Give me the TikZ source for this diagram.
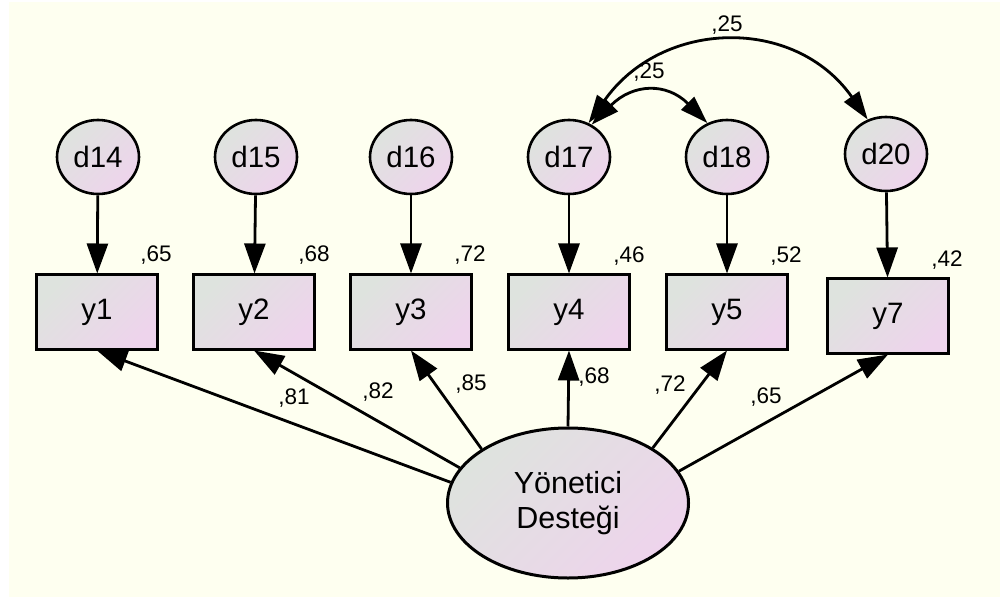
\documentclass[tikz,border=0pt]{standalone}
\usepackage{fontspec}
\setmainfont{Liberation Sans}
\usetikzlibrary{arrows.meta,shapes.geometric}
\definecolor{paper}{RGB}{254,255,240}
\definecolor{shadeA}{RGB}{222,227,222}
\definecolor{shadeB}{RGB}{238,212,236}
\begin{document}
\begin{tikzpicture}[x=1pt,y=-1pt,
  grad/.style={top color=shadeA, bottom color=shadeB, shading angle=45},
  errvar/.style={ellipse, draw, line width=2.6pt, grad, minimum width=82pt,
    minimum height=74pt, inner sep=0pt, font=\fontsize{29.5}{32}\selectfont},
  obsvar/.style={rectangle, draw, line width=3pt, grad, minimum width=121pt,
    minimum height=74pt, inner sep=0pt, font=\fontsize{29.5}{32}\selectfont},
  latvar/.style={ellipse, draw, line width=3pt, grad, minimum width=241pt,
    minimum height=150pt, inner sep=0pt, align=center,
    font=\fontsize{30.5}{35}\selectfont},
  coef/.style={font=\fontsize{22.5}{25}\selectfont, inner sep=0pt},
  regpath/.style={line width=2.8pt, -{Triangle[length=30pt,width=21pt]}},
  covpath/.style={line width=2.8pt,
    {Triangle[length=28pt,width=18pt]}-{Triangle[length=28pt,width=18pt]}}]

% canvas
\useasboundingbox (0,0) rectangle (1000,601);
\fill[white] (0,0) rectangle (1000,601);
\fill[paper] (9,2) rectangle (1000,597);

% error terms
\node[errvar] (d14) at (98,157) {d14};
\node[errvar] (d15) at (256,157) {d15};
\node[errvar] (d16) at (411,157) {d16};
\node[errvar] (d17) at (569,157) {d17};
\node[errvar] (d18) at (727,157) {d18};
\node[errvar] (d20) at (886,154) {d20};

% observed indicators
\node[obsvar] (y1) at (97,312) {y1};
\node[obsvar] (y2) at (254,312) {y2};
\node[obsvar] (y3) at (411,312) {y3};
\node[obsvar] (y4) at (569,312) {y4};
\node[obsvar] (y5) at (727,312) {y5};
\node[obsvar] (y7) at (888,316) {y7};

% latent factor
\node[latvar] (lat) at (568,503) {Yönetici\\Desteği};

% error paths
\draw[regpath] (d14) -- (y1);
\draw[regpath] (d15) -- (y2);
\draw[regpath] (d16) -- (y3);
\draw[regpath] (d17) -- (y4);
\draw[regpath] (d18) -- (y5);
\draw[regpath] (d20) -- (y7);

% factor loadings
\draw[regpath] (lat.170) -- (y1.south);
\draw[regpath] (lat.162) -- (y2.south);
\draw[regpath] (lat.148) -- (y3.south);
\draw[regpath] (lat.north) -- (y4.south);
\draw[regpath] (lat.33) -- (y5.south);
\draw[regpath] (lat.16) -- (y7.south);

% error covariances
\draw[covpath] (d17.60) .. controls +(73,-104) and +(-73,-104) .. (d20.118);
\draw[covpath] (d17.55) .. controls +(41,-41) and +(-41,-41) .. (d18.120);

% squared multiple correlations
\node[coef] (r1) at (156,255) {,65};
\node[coef] (r2) at (314,255) {,68};
\node[coef] (r3) at (470,255) {,72};
\node[coef] (r4) at (629,256) {,46};
\node[coef] (r5) at (786,256) {,52};
\node[coef] (r7) at (947,260) {,42};

% loading estimates
\node[coef] (l1) at (294,398) {,81};
\node[coef] (l2) at (378,392) {,82};
\node[coef] (l3) at (471,384) {,85};
\node[coef] (l4) at (594,377) {,68};
\node[coef] (l5) at (670,385) {,72};
\node[coef] (l7) at (766,397) {,65};

% covariance estimates
\node[coef] (c1) at (727,25) {,25};
\node[coef] (c2) at (649,72) {,25};
\end{tikzpicture}
\end{document}
